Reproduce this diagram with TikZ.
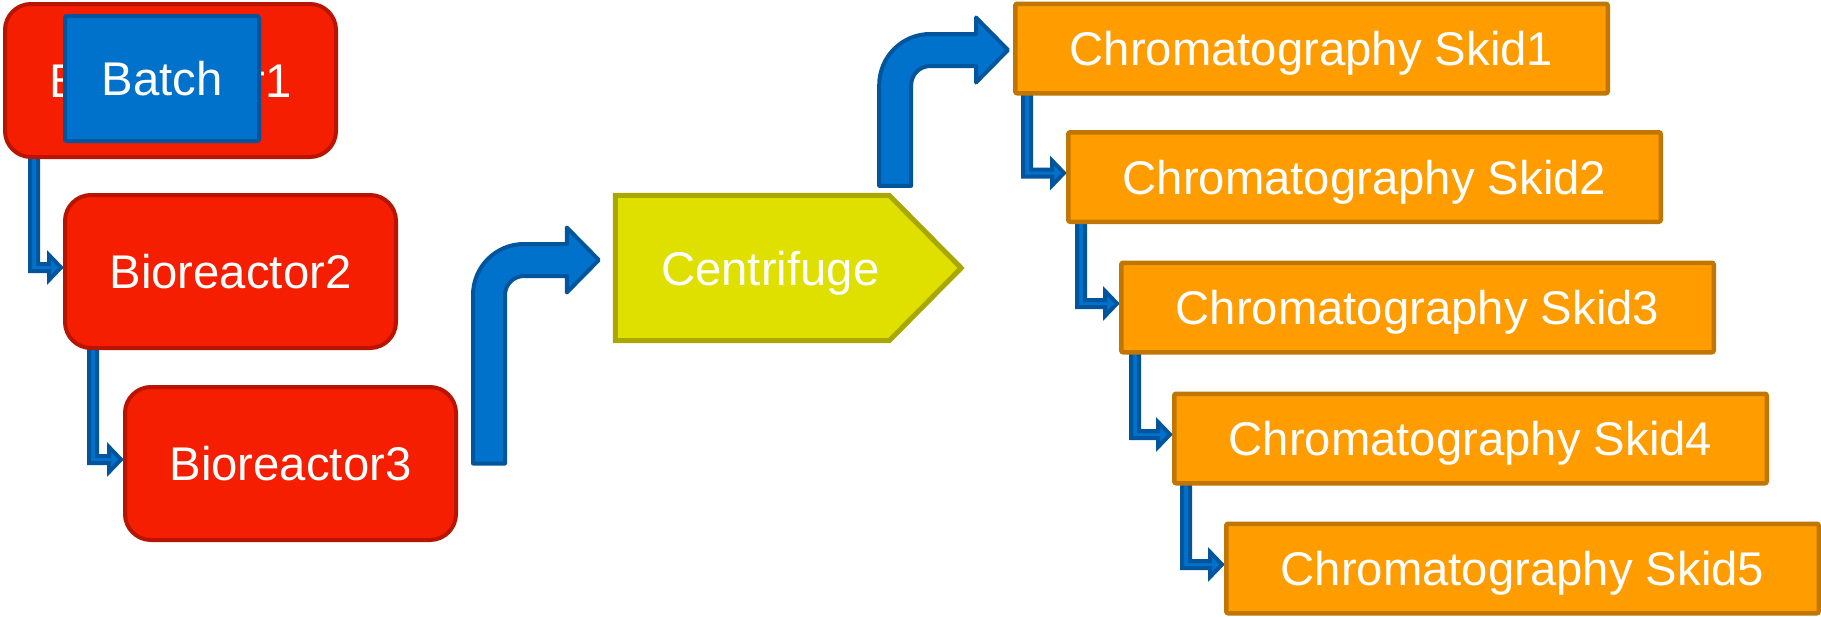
\documentclass[tikz,border=0pt]{standalone}
\usepackage{fontspec}
\setmainfont{Liberation Sans}
\usetikzlibrary{calc}
\pgfdeclarelayer{background}
\pgfsetlayers{background,main}
\definecolor{redF}{HTML}{F51E00}
\definecolor{redB}{HTML}{B81400}
\definecolor{blueF}{HTML}{0072CC}
\definecolor{blueB}{HTML}{00559D}
\definecolor{yelF}{HTML}{DFDF00}
\definecolor{yelB}{HTML}{A8A800}
\definecolor{oraF}{HTML}{FF9C00}
\definecolor{oraB}{HTML}{C07600}
\newcommand\bigfont{\fontsize{47.3}{56}\selectfont}
\newcommand\smallarr[3]{%
  \coordinate (sa) at ($(#1.south west)+(#3,0)$);
  \coordinate (ta) at ($(#2.west)+(0,-4)$);
  \coordinate (ca) at (sa |- ta);
  \draw[sarrow] ($(sa)+(-4,-6)$) -- ($(sa)+(4,-6)$) -- ($(ca)+(4,-3.5)$)
    -- ($(ta)+(-14,-3.5)$) -- ($(ta)+(-14,-12.5)$) -- ($(ta)+(-2,0)$)
    -- ($(ta)+(-14,12.5)$) -- ($(ta)+(-14,3.5)$) -- ($(ca)+(-4,3.5)$) -- cycle;}
\newcommand\bendarr[2]{%
  \coordinate (K) at (#1 |- #2);
  \draw[barrow] (#1) -- ($(K)+(0,35)$) arc[start angle=180,end angle=90,radius=51pt]
    -- ($(#2)+(-32,-16)$) -- ($(#2)+(-32,-32.5)$) -- (#2) -- ($(#2)+(-32,32.5)$)
    -- ($(#2)+(-32,16)$) -- ($(K)+(51,16)$) arc[start angle=90,end angle=180,radius=19pt]
    -- ($(#1)+(32,0)$) -- cycle;}
\tikzset{
  txt/.style={text=white, font=\bigfont, text height=34pt, text depth=0pt, inner sep=0pt},
  reactor/.style={txt, rectangle, rounded corners=26pt, draw=redB, fill=redF, line width=4pt,
    minimum width=331pt, minimum height=153pt},
  batchbox/.style={txt, rectangle, rounded corners=2pt, draw=blueB, fill=blueF, line width=4pt,
    minimum width=194pt, minimum height=125pt},
  skid/.style={txt, rectangle, rounded corners=2pt, draw=oraB, fill=oraF, line width=4.5pt,
    minimum width=592.5pt, minimum height=89.5pt},
  centbox/.style={txt, rectangle, minimum width=273.5pt, minimum height=145pt},
  centshape/.style={draw=yelB, fill=yelF, line width=5pt, line join=miter},
  sarrow/.style={draw=blueB, fill=blueF, line width=4pt, line join=miter},
  barrow/.style={draw=blueB, fill=blueF, line width=4pt, line join=round}
}
\begin{document}
\begin{tikzpicture}[x=1pt,y=-1pt]
\useasboundingbox (0,0) rectangle (1821,616);
\node[reactor] (b1) at (170.5,80.5) {Bioreactor1};
\node[batchbox] (batch) at (162,78.5) {Batch};
\node[reactor] (b2) at (230.5,271.5) {Bioreactor2};
\node[reactor] (b3) at (290.5,463.5) {Bioreactor3};
\node[centbox] (cent) at (752.25,268) {\hspace*{36pt}Centrifuge};
\node[skid] (sk1) at (1311.5,48.5) {Chromatography Skid1};
\node[skid] (sk2) at (1364.5,177) {Chromatography Skid2};
\node[skid] (sk3) at (1417.5,307.5) {Chromatography Skid3};
\node[skid] (sk4) at (1470.5,438.5) {Chromatography Skid4};
\node[skid] (sk5) at (1522.5,568.5) {Chromatography Skid5};
\begin{pgfonlayer}{background}
  \draw[centshape] (cent.north west) -- (cent.north east) -- ($(cent.east)+(72,0)$)
    -- (cent.south east) -- (cent.south west) -- cycle;
  \smallarr{b1}{b2}{31}
  \smallarr{b2}{b3}{30}
  \smallarr{sk1}{sk2}{14}
  \smallarr{sk2}{sk3}{15}
  \smallarr{sk3}{sk4}{16}
  \smallarr{sk4}{sk5}{14}
  \coordinate (s1) at ($(b3.east)+(15,0)$);
  \coordinate (t1) at ($(cent.west)+(-16.5,-8)$);
  \bendarr{s1}{t1}
  \coordinate (s2) at ($(cent.north east)+(-10,-9.5)$);
  \coordinate (t2) at ($(sk1.west)+(-5,1.5)$);
  \bendarr{s2}{t2}
\end{pgfonlayer}
\end{tikzpicture}
\end{document}
